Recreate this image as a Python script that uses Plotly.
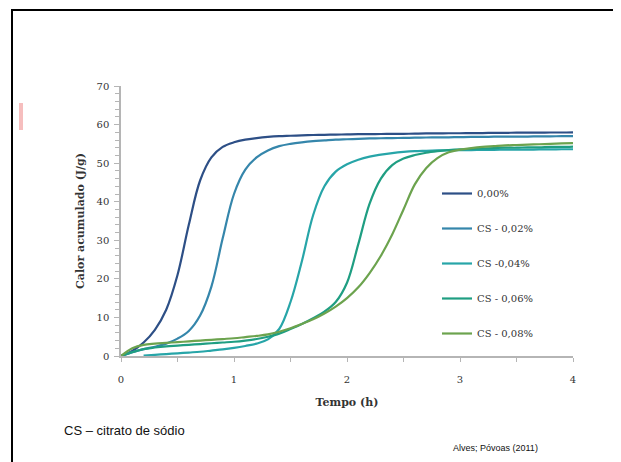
import plotly.graph_objects as go

# ---- data ----
tempo = [0.0, 0.1, 0.2, 0.3, 0.4, 0.5, 0.6, 0.7, 0.8, 0.9,
         1.0, 1.1, 1.2, 1.3, 1.4, 1.5, 1.6, 1.7, 1.8, 1.9,
         2.0, 2.1, 2.2, 2.3, 2.4, 2.5, 2.6, 2.7, 2.8, 2.9,
         3.0, 3.1, 3.2, 3.3, 3.4, 3.5, 3.6, 3.7, 3.8, 3.9, 4.0]

s000 = [0.0, 1.3, 3.5, 6.8, 12.0, 21.0, 34.0, 45.5, 51.5, 54.2,
        55.4, 56.1, 56.5, 56.8, 57.0, 57.1, 57.2, 57.3, 57.35, 57.4,
        57.45, 57.5, 57.5, 57.55, 57.6, 57.6, 57.65, 57.7, 57.7, 57.75,
        57.75, 57.8, 57.8, 57.85, 57.85, 57.9, 57.9, 57.9, 57.95, 57.95, 58.0]

s002 = [0.0, 1.0, 1.8, 2.4, 3.2, 4.5, 6.5, 10.5, 18.0, 30.5,
        42.0, 48.3, 51.5, 53.3, 54.4, 55.0, 55.4, 55.7, 55.9, 56.1,
        56.2, 56.3, 56.4, 56.45, 56.5, 56.55, 56.6, 56.65, 56.7, 56.7,
        56.75, 56.8, 56.8, 56.85, 56.85, 56.9, 56.9, 56.95, 56.95, 57.0, 57.0]

s004 = [None, None, 0.1, 0.3, 0.5, 0.7, 0.9, 1.1, 1.4, 1.7,
        2.1, 2.6, 3.2, 4.3, 7.0, 14.0, 24.5, 36.5, 44.0, 47.8,
        49.7, 50.9, 51.7, 52.2, 52.6, 52.9, 53.1, 53.2, 53.3, 53.35,
        53.4, 53.4, 53.45, 53.45, 53.5, 53.5, 53.5, 53.55, 53.55, 53.6, 53.6]

s006 = [0.0, 1.0, 1.8, 2.2, 2.5, 2.7, 2.9, 3.1, 3.3, 3.5,
        3.7, 4.0, 4.4, 5.0, 5.8, 7.0, 8.3, 9.8, 11.5, 14.0,
        19.0, 29.0, 39.5, 46.0, 49.5, 51.2, 52.1, 52.7, 53.1, 53.4,
        53.6, 53.7, 53.8, 53.9, 54.0, 54.0, 54.1, 54.1, 54.2, 54.2, 54.3]

s008 = [0.0, 2.0, 2.9, 3.2, 3.4, 3.6, 3.8, 4.0, 4.2, 4.4,
        4.6, 4.9, 5.2, 5.6, 6.3, 7.2, 8.3, 9.5, 11.0, 12.8,
        15.0, 17.8, 21.5, 26.0, 31.5, 38.0, 44.5, 48.7, 51.3, 52.8,
        53.5, 53.9, 54.2, 54.4, 54.6, 54.7, 54.8, 54.9, 55.0, 55.1, 55.2]

nomes = ["0,00%", "CS - 0,02%", "CS -0,04%", "CS - 0,06%", "CS - 0,08%"]
series = [s000, s002, s004, s006, s008]
cores = ["#2d4f86", "#3586ab", "#27a5a8", "#1f9e82", "#6ca34e"]

xticks = [0, 1, 2, 3, 4]
yticks = [0, 10, 20, 30, 40, 50, 60, 70]

serif = "DejaVu Serif"

fig = go.Figure()
for i, (nm, ys, c) in enumerate(zip(nomes, series, cores)):
    fig.add_trace(go.Scatter(
        x=tempo, y=ys, name=nm, mode="lines",
        line=dict(color=c, width=2.2, shape="spline", smoothing=1.0),
        legendgroup=f"g{i}", connectgaps=False,
    ))

# the page puts the figure 8 px from its top-left corner
OFF = 8
W, H = 621 - OFF, 462 - OFF
L, R, T, B = 121 - OFF, 48, 86 - OFF, 106
pw, ph = W - L - R, H - T - B


def px_x(p):  # page pixel -> paper x
    return (p - OFF - L) / pw


def px_y(p):  # page pixel -> paper y
    return (H - B - (p - OFF)) / ph


fig.update_layout(
    width=W, height=H,
    margin=dict(l=L, r=R, t=T, b=B, pad=0),
    paper_bgcolor="white", plot_bgcolor="white",
    showlegend=True,
    legend=dict(
        x=px_x(437), y=px_y(179), xanchor="left", yanchor="top",
        font=dict(family=serif, size=10, color="#333333"),
        tracegroupgap=16, itemwidth=30, bgcolor="rgba(0,0,0,0)",
    ),
    xaxis=dict(
        range=[0, 4], tickvals=xticks, ticktext=[str(v) for v in xticks],
        showgrid=False, zeroline=False, showline=True,
        linecolor="#b5b5b5", linewidth=1.5,
        ticks="outside", ticklen=4, tickcolor="#b5b5b5",
        minor=dict(dtick=0.5, ticks="outside", ticklen=4, tickcolor="#b5b5b5"),
        tickfont=dict(family=serif, size=10, color="#333333"),
        ticklabelstandoff=9,
        title=dict(text="<b>Tempo (h)</b>", font=dict(family=serif, size=11, color="#333333"),
                   standoff=15),
    ),
    yaxis=dict(
        range=[0, 70], tickvals=yticks, ticktext=[str(v) for v in yticks],
        showgrid=False, zeroline=False, showline=True,
        linecolor="#b5b5b5", linewidth=1.5,
        ticks="outside", ticklen=5, tickcolor="#b5b5b5",
        minor=dict(dtick=2, ticks="outside", ticklen=4, tickcolor="#b5b5b5"),
        tickfont=dict(family=serif, size=10, color="#333333"),
        ticklabelstandoff=3,
        title=dict(text="<b>Calor acumulado (J/g)</b>", font=dict(family=serif, size=11, color="#333333"),
                   standoff=10),
    ),
    shapes=[
        dict(type="rect", xref="paper", yref="paper",
             x0=px_x(12), x1=px_x(619), y0=px_y(480), y1=px_y(10),
             line=dict(color="black", width=2), fillcolor="rgba(0,0,0,0)", layer="above"),
        dict(type="rect", xref="paper", yref="paper",
             x0=px_x(19), x1=px_x(23), y0=px_y(130), y1=px_y(103),
             line=dict(width=0), fillcolor="rgba(236,110,110,0.45)"),
    ],
    annotations=[
        dict(text="CS – citrato de sódio", xref="paper", yref="paper",
             x=px_x(62), y=px_y(430), xanchor="left", yanchor="middle", showarrow=False,
             font=dict(family="Liberation Sans", size=13, color="#111111")),
        dict(text="Alves; Póvoas (2011)", xref="paper", yref="paper",
             x=px_x(451), y=px_y(448), xanchor="left", yanchor="middle", showarrow=False,
             font=dict(family="Liberation Sans", size=9, color="#111111")),
    ],
)

fig.write_html("out.html")
